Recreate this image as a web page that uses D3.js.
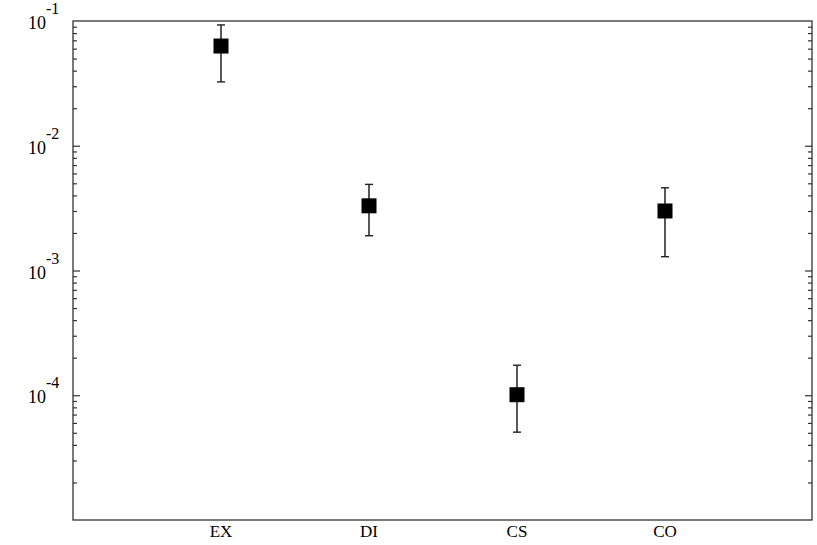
<!DOCTYPE html>
<html>
<head>
<meta charset="utf-8">
<script src="https://cdn.jsdelivr.net/npm/d3@7"></script>
<style>
  body { margin: 0; background: #fff; }
  svg text { font-family: "Liberation Serif", "DejaVu Serif", serif; fill: #000; }
</style>
</head>
<body>
<div id="chart"></div>
<script>
// data
var categories = ["EX", "DI", "CS", "CO"];
var values = [0.063, 0.0033, 0.000101, 0.0030];
var upper = [0.093, 0.0049, 0.000174, 0.0046];
var lower = [0.0325, 0.0019, 0.0000506, 0.00129];
var majorTicks = [1e-5, 1e-4, 1e-3, 1e-2, 1e-1];
var tickExps = ["-4", "-3", "-2", "-1"];

var W = 817, H = 545;
// note: "top" is taken by window.top, so use other names
var plotL = 73, plotR = 812, plotT = 21, plotB = 520;

var svg = d3.select("#chart").append("svg")
  .attr("width", W).attr("height", H);

var x = d3.scaleLinear().domain([0, 5]).range([plotL, plotL + 5 * 148]);
var y = d3.scaleLog().domain([1e-5, 1e-1]).range([plotB, plotT]);

// minor ticks 2..9 x 10^k
var minor = [];
for (var k = -5; k < -1; k++) {
  for (var m = 2; m <= 9; m++) minor.push(m * Math.pow(10, k));
}

function styleAxis(g) {
  g.select(".domain").remove();
  g.selectAll("line").attr("stroke", "#333").attr("stroke-width", 1.2);
  g.selectAll("text").remove();
}

svg.append("g").attr("transform", "translate(" + plotL + ",0)")
  .call(d3.axisLeft(y).tickValues(majorTicks.slice(1, 4)).tickSize(-7).tickFormat(""))
  .call(styleAxis);
svg.append("g").attr("transform", "translate(" + plotL + ",0)")
  .call(d3.axisLeft(y).tickValues(minor).tickSize(-4).tickFormat(""))
  .call(styleAxis);
svg.append("g").attr("transform", "translate(" + plotR + ",0)")
  .call(d3.axisRight(y).tickValues(majorTicks.slice(1, 4)).tickSize(-7).tickFormat(""))
  .call(styleAxis);
svg.append("g").attr("transform", "translate(" + plotR + ",0)")
  .call(d3.axisRight(y).tickValues(minor).tickSize(-4).tickFormat(""))
  .call(styleAxis);

// frame
svg.append("rect")
  .attr("x", plotL).attr("y", plotT)
  .attr("width", plotR - plotL).attr("height", plotB - plotT)
  .attr("fill", "none").attr("stroke", "#222").attr("stroke-width", 1.2);

// y labels 10^k
var labs = svg.selectAll(".ylab").data(majorTicks.slice(1)).enter().append("g").attr("class", "ylab");
labs.append("text")
  .attr("x", 28).attr("y", function(d) { return y(d) + 8; })
  .attr("font-size", 18).text("10");
labs.append("text")
  .attr("x", 46).attr("y", function(d) { return y(d) - 7; })
  .attr("font-size", 16)
  .text(function(d, i) { return tickExps[i]; });

// category labels
svg.selectAll(".xlab").data(categories).enter().append("text")
  .attr("x", function(d, i) { return x(i + 1); })
  .attr("y", 537)
  .attr("text-anchor", "middle")
  .attr("font-size", 17)
  .text(function(d) { return d; });

// error bars
var idx = d3.range(categories.length);
svg.selectAll(".err").data(idx).enter().append("line")
  .attr("x1", function(i) { return x(i + 1); })
  .attr("x2", function(i) { return x(i + 1); })
  .attr("y1", function(i) { return y(upper[i]); })
  .attr("y2", function(i) { return y(lower[i]); })
  .attr("stroke", "#111").attr("stroke-width", 1.4);
[upper, lower].forEach(function(arr) {
  svg.selectAll(null).data(idx).enter().append("line")
    .attr("x1", function(i) { return x(i + 1) - 4; })
    .attr("x2", function(i) { return x(i + 1) + 4; })
    .attr("y1", function(i) { return y(arr[i]); })
    .attr("y2", function(i) { return y(arr[i]); })
    .attr("stroke", "#222").attr("stroke-width", 1.4);
});

// markers
svg.selectAll(".pt").data(idx).enter().append("rect")
  .attr("x", function(i) { return x(i + 1) - 7.5; })
  .attr("y", function(i) { return y(values[i]) - 7.5; })
  .attr("width", 15).attr("height", 15)
  .attr("fill", "#000");
</script>
</body>
</html>
